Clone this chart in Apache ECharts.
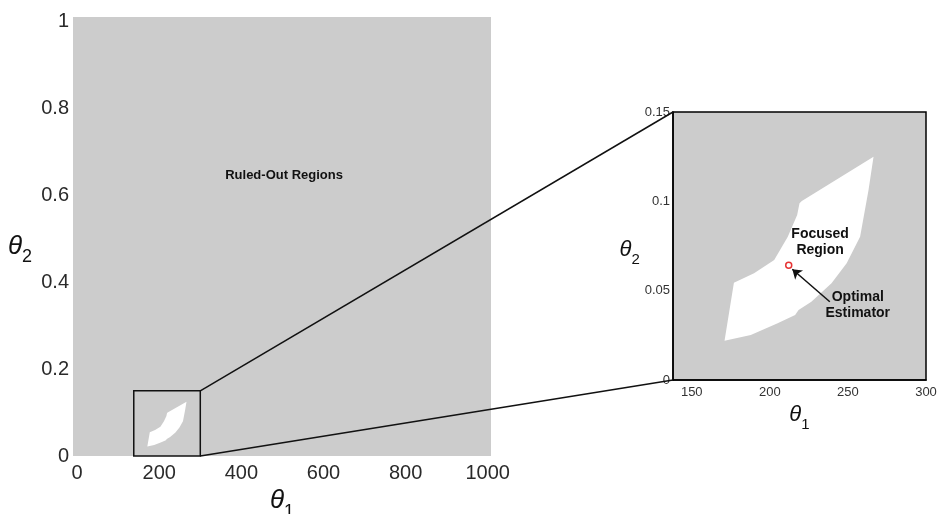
<!DOCTYPE html>
<html>
<head>
<meta charset="utf-8">
<script src="https://cdn.jsdelivr.net/npm/echarts@6/dist/echarts.min.js"></script>
<style>
  html, body { margin: 0; padding: 0; background: #fff; }
  #chart { width: 937px; height: 514px; }
</style>
</head>
<body>
<div id="chart"></div>
<script>
// tick labels
const mainXTicks = [0, 200, 400, 600, 800, 1000];
const mainYTicks = [0, 0.2, 0.4, 0.6, 0.8, 1];
const zoomXTicks = [150, 200, 250, 300];
const zoomYTicks = [0, 0.05, 0.1, 0.15];

// outline of the focused (not ruled-out) region
const regionTheta1 = [171, 177, 189.9, 202.8, 211.5, 217.5, 219, 220.5, 266.4, 263.2, 257.8, 249.2, 239.5, 226.6, 218.4, 216.2, 205, 187.8];
const regionTheta2 = [0.022, 0.0545, 0.0597, 0.0672, 0.0802, 0.0923, 0.0989, 0.1002, 0.125, 0.1063, 0.0802, 0.0653, 0.0541, 0.0438, 0.0392, 0.0364, 0.0317, 0.0252];

// zoom window [theta1 min, theta2 min, theta1 max, theta2 max]
const zoomBox = [138, 0, 300, 0.15];

// optimal estimator point and arrow tail
const optimal = [212.1, 0.0642];
const arrowTail = [238.4, 0.0438];

const regionPoints = regionTheta1.map((x, i) => [x, regionTheta2[i]]);

const font = 'Liberation Sans, Arial, sans-serif';
const gray = '#cccccc';

function polygonItem(params, api) {
  if (params.dataIndex !== 0) return null;
  const pts = regionPoints.map(p => api.coord(p));
  return {
    type: 'polygon',
    shape: { points: pts },
    style: { fill: '#fff', stroke: null }
  };
}

function textItem(params, api) {
  const p = api.coord([api.value(0), api.value(1)]);
  return {
    type: 'text',
    x: p[0], y: p[1],
    style: {
      text: api.value(2),
      fill: '#111',
      font: 'bold ' + api.value(3) + 'px ' + font,
      align: 'center',
      verticalAlign: 'middle',
      lineHeight: 16
    }
  };
}

function thetaName(big, small, drop) {
  return {
    rich: {
      t: { fontSize: big, fontStyle: 'italic', fontFamily: font, color: '#111', lineHeight: big + 2 },
      s: { fontSize: small, fontFamily: font, color: '#111', verticalAlign: 'bottom', lineHeight: small, padding: [0, 0, -drop, 0] }
    }
  };
}

const chart = echarts.init(document.getElementById('chart'));

const option = {
  animation: false,
  backgroundColor: '#fff',
  grid: [
    { left: 73, right: 446, top: 17, bottom: 58, show: true, backgroundColor: gray, borderWidth: 0, containLabel: false, outerBoundsMode: 'none' },
    { left: 673, right: 11, top: 112, bottom: 134, show: true, backgroundColor: gray, borderColor: '#000', borderWidth: 1.5, containLabel: false, outerBoundsMode: 'none' }
  ],
  xAxis: [
    {
      gridIndex: 0, type: 'value', min: -10, max: 1008,
      axisLine: { show: false }, axisTick: { show: false }, splitLine: { show: false },
      axisLabel: { customValues: mainXTicks, formatter: v => String(v), color: '#2a2a2a', fontSize: 20, fontFamily: font, margin: 7 },
      name: '{t|θ}{s|1}', nameLocation: 'middle', nameGap: 30,
      nameTextStyle: thetaName(26, 18, 6)
    },
    {
      gridIndex: 1, type: 'value', min: zoomBox[0], max: zoomBox[2],
      axisLine: { show: true, lineStyle: { color: '#000', width: 1.5 } },
      axisTick: { show: false }, splitLine: { show: false },
      axisLabel: { customValues: zoomXTicks, formatter: v => String(v), color: '#333', fontSize: 13, fontFamily: font, margin: 6 },
      name: '{t|θ}{s|1}', nameLocation: 'middle', nameGap: 21,
      nameTextStyle: thetaName(22, 15, 5)
    }
  ],
  yAxis: [
    {
      gridIndex: 0, type: 'value', min: 0, max: 1.01,
      axisLine: { show: false }, axisTick: { show: false }, splitLine: { show: false },
      axisLabel: { customValues: mainYTicks, formatter: v => String(v), color: '#2a2a2a', fontSize: 20, fontFamily: font, margin: 4 },
      name: '{t|θ}{s|2}', nameLocation: 'middle', nameRotate: 0, nameGap: 41,
      nameTextStyle: Object.assign(thetaName(26, 18, 6), { padding: [20, 0, 0, 0] })
    },
    {
      gridIndex: 1, type: 'value', min: zoomBox[1], max: zoomBox[3],
      axisLine: { show: true, lineStyle: { color: '#000', width: 1.5 } },
      axisTick: { show: false }, splitLine: { show: false },
      axisLabel: { customValues: zoomYTicks, formatter: v => String(v), color: '#333', fontSize: 13, fontFamily: font, margin: 3 },
      name: '{t|θ}{s|2}', nameLocation: 'middle', nameRotate: 0, nameGap: 32,
      nameTextStyle: Object.assign(thetaName(22, 15, 5), { padding: [8, 0, 0, 0] })
    }
  ],
  series: [
    {
      type: 'custom', xAxisIndex: 0, yAxisIndex: 0, silent: true,
      data: regionPoints, renderItem: polygonItem
    },
    {
      type: 'custom', xAxisIndex: 0, yAxisIndex: 0, silent: true,
      data: [zoomBox],
      renderItem: function (params, api) {
        const a = api.coord([api.value(0), api.value(1)]);
        const b = api.coord([api.value(2), api.value(3)]);
        return {
          type: 'rect',
          shape: { x: a[0], y: b[1], width: b[0] - a[0], height: a[1] - b[1] },
          style: { fill: null, stroke: '#111', lineWidth: 1.5 }
        };
      }
    },
    {
      type: 'custom', xAxisIndex: 0, yAxisIndex: 0, silent: true,
      data: [[504, 0.646, 'Ruled-Out Regions', 13]],
      renderItem: textItem
    },
    {
      type: 'custom', xAxisIndex: 1, yAxisIndex: 1, silent: true,
      data: regionPoints, renderItem: polygonItem
    },
    {
      type: 'lines', coordinateSystem: 'cartesian2d', xAxisIndex: 1, yAxisIndex: 1, silent: true,
      symbol: ['none', 'arrow'], symbolSize: 9,
      lineStyle: { color: '#111', width: 1.5, opacity: 1 },
      data: [{ coords: [arrowTail, [optimal[0] + 2.3, optimal[1] - 0.0022]] }]
    },
    {
      type: 'scatter', xAxisIndex: 1, yAxisIndex: 1, silent: true,
      symbol: 'circle', symbolSize: 6,
      itemStyle: { color: '#fff', borderColor: '#e00000', borderWidth: 1.5 },
      data: [optimal]
    },
    {
      type: 'custom', xAxisIndex: 1, yAxisIndex: 1, silent: true,
      data: [[232.2, 0.0772, 'Focused\nRegion', 14], [256.3, 0.0417, 'Optimal\nEstimator', 14]],
      renderItem: textItem
    }
  ]
};

chart.setOption(option);

// connector lines from the zoom window to the inset
const mainTop = chart.convertToPixel({ xAxisIndex: 0, yAxisIndex: 0 }, [zoomBox[2], zoomBox[3]]);
const mainBot = chart.convertToPixel({ xAxisIndex: 0, yAxisIndex: 0 }, [zoomBox[2], zoomBox[1]]);
const insetTop = chart.convertToPixel({ xAxisIndex: 1, yAxisIndex: 1 }, [zoomBox[0], zoomBox[3]]);
const insetBot = chart.convertToPixel({ xAxisIndex: 1, yAxisIndex: 1 }, [zoomBox[0], zoomBox[1]]);

chart.setOption({
  graphic: [
    { type: 'line', silent: true, z: 100, shape: { x1: mainTop[0], y1: mainTop[1], x2: insetTop[0], y2: insetTop[1] }, style: { stroke: '#111', lineWidth: 1.5 } },
    { type: 'line', silent: true, z: 100, shape: { x1: mainBot[0], y1: mainBot[1], x2: insetBot[0], y2: insetBot[1] }, style: { stroke: '#111', lineWidth: 1.5 } }
  ]
});
</script>
</body>
</html>
